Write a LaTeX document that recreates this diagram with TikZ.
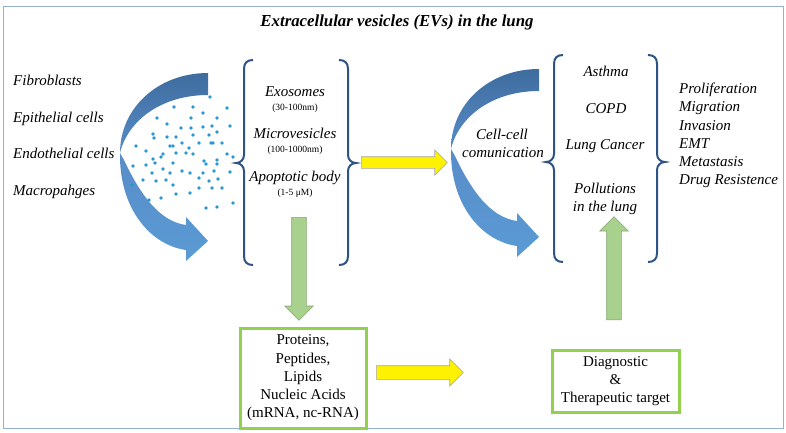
\documentclass[tikz,border=0pt]{standalone}
\usepackage{fontspec}
\setmainfont{Liberation Serif}
\usetikzlibrary{positioning, shapes.arrows}

\definecolor{framecol}{RGB}{150,175,215}
\definecolor{bracecol}{RGB}{46,84,134}
\definecolor{bandtop}{RGB}{62,108,158}
\definecolor{bandmid}{RGB}{88,140,200}
\definecolor{bandlow}{RGB}{91,155,213}
\definecolor{dotcol}{RGB}{40,152,212}
\definecolor{boxgreen}{RGB}{146,208,80}
\definecolor{arrowgreen}{RGB}{169,209,142}

% curly braces: x of the stem, top y, tip y, bottom y
\newcommand{\openbrace}[4]{\draw[bracket] (#1+9,#2) .. controls (#1+3,#2) and (#1,#2+3) .. (#1,#2+9) -- (#1,#3-8) .. controls (#1,#3-3) and (#1-4,#3) .. (#1-8,#3) .. controls (#1-4,#3) and (#1,#3+3) .. (#1,#3+8) -- (#1,#4-9) .. controls (#1,#4-3) and (#1+3,#4) .. (#1+9,#4);}
\newcommand{\closebrace}[4]{\draw[bracket] (#1-9,#2) .. controls (#1-3,#2) and (#1,#2+3) .. (#1,#2+9) -- (#1,#3-8) .. controls (#1,#3-3) and (#1+4,#3) .. (#1+8,#3) .. controls (#1+4,#3) and (#1,#3+3) .. (#1,#3+8) -- (#1,#4-9) .. controls (#1,#4-3) and (#1-3,#4) .. (#1-9,#4);}
% curved band arrow, shifted by (#1,#2)
\newcommand{\curvedband}[2]{%
\begin{scope}[shift={(#1,#2)}]
\shade[top color=bandtop, bottom color=bandmid] (208,73) .. controls (158,73) and (120,108) .. (120,153) .. controls (128,120) and (162,95) .. (208,95) -- cycle;
\shade[top color=bandmid, bottom color=bandlow] (120,153) .. controls (119,208) and (150,245) .. (186,250) -- (186,261) -- (208,241) -- (186,217) -- (186,225) .. controls (165,222) and (145,205) .. (124,160) -- cycle;
\end{scope}}

\begin{document}
\begin{tikzpicture}[
    x=1pt, y=-1pt,
    every node/.style={inner sep=0pt, font=\fontsize{15}{18.3}\selectfont},
    label/.style={font=\fontsize{15}{18.3}\selectfont\itshape},
    size/.style={font=\fontsize{9.5}{11}\selectfont},
    bracket/.style={draw=bracecol, line width=2pt},
    result/.style={draw=boxgreen, line width=3pt, align=center},
    yellowarrow/.style={single arrow, fill=yellow, draw=black!35, line width=0.6pt, inner ysep=#1, single arrow head extend=6.75pt},
    greenarrow/.style={single arrow, fill=arrowgreen, draw=arrowgreen!80!black, line width=0.6pt, inner sep=7pt, single arrow head extend=7pt, minimum height=103pt, shape border rotate=#1}
]

\useasboundingbox (0,0) rectangle (786,432);
\draw[framecol, line width=0.8pt] (3,6) rectangle (783,428);

\node[anchor=base, font=\fontsize{16.8}{20}\selectfont\bfseries\itshape] (title) at (397,26) {Extracellular vesicles (EVs) in the lung};

% cell types
\node[label, anchor=base west] (fib) at (13,85) {Fibroblasts};
\node[label, anchor=base west] (epi) at (13,122) {Epithelial cells};
\node[label, anchor=base west] (endo) at (13,158) {Endothelial cells};
\node[label, anchor=base west] (mac) at (13,195) {Macropahges};

% release of vesicles
\curvedband{0}{0}
\foreach \p in {(210,97),(174,107),(193,107),(203,113),(227,108),(157,118),(191,118),(217,118),
    (167,124),(181,128),(191,128),(203,127),(212,126),(230,126),(153,134),(154,138),(167,137),
    (176,137),(193,135),(209,135),(217,132),(136,146),(170,146),(173,146),(182,143),(199,143),
    (211,143),(213,143),(222,143),(146,151),(189,148),(163,154),(161,157),(176,153),(186,153),
    (193,154),(153,159),(155,163),(204,161),(206,164),(217,160),(217,164),(227,154),(233,157),
    (133,166),(146,165),(173,163),(163,169),(152,173),(170,173),(182,171),(190,173),(203,173),
    (214,171),(230,172),(143,180),(156,181),(166,180),(199,178),(209,181),(218,179),(132,185),
    (173,185),(190,193),(199,188),(212,188),(222,188),(149,200),(161,198),(176,194),(233,203),
    (206,208),(217,207)}
    \fill[dotcol] \p circle (1.8);

% types of vesicles
\openbrace{244}{60}{163}{265}
\closebrace{348}{60}{163}{265}
\node[label, anchor=base] (exo) at (295,96) {Exosomes};
\node[size, anchor=base] (exosize) at (295,110) {(30-100nm)};
\node[label, anchor=base] (micro) at (295,138) {Microvesicles};
\node[size, anchor=base] (microsize) at (295,152) {(100-1000nm)};
\node[label, anchor=base] (apo) at (295,181) {Apoptotic body};
\node[size, anchor=base] (aposize) at (295,195) {(1-5 μM)};

% communication
\curvedband{331}{-4}
\node[label, anchor=base] (cc) at (502,139) {Cell-cell};
\node[label, anchor=base] (comm) at (503,157) {comunication};

% diseases
\openbrace{554}{55}{162}{262}
\closebrace{657}{55}{162}{262}
\node[label, anchor=base] (asthma) at (606,76) {Asthma};
\node[label, anchor=base] (copd) at (606,113) {COPD};
\node[label, anchor=base] (cancer) at (605,149) {Lung Cancer};
\node[label, anchor=base] (poll) at (605,193) {Pollutions};
\node[label, anchor=base] (lung) at (605,211) {in the lung};

\node[label, anchor=north west, align=left] (effects) at (679,82.7) {Proliferation\\Migration\\Invasion\\EMT\\Metastasis\\Drug Resistence};

% cargo and use
\node[result, minimum width=126pt, minimum height=100pt] (mol) at (303,378) {Proteins,\\Peptides,\\Lipids\\Nucleic Acids\\(mRNA, nc-RNA)};
\node[result, minimum width=127pt, minimum height=62pt] (diag) at (615.5,381) {Diagnostic\\\&\\Therapeutic target};

% block arrows
\node[yellowarrow=5.5pt, minimum height=86pt, anchor=tail] (vesicles2comm) at (361,162.5) {};
\node[yellowarrow=6.5pt, minimum height=87pt, anchor=tail] (mol2diag) at (376,372.5) {};
\node[greenarrow=270, anchor=tail] (vesicles2mol) at (299,217) {};
\node[greenarrow=90, anchor=tail] (diag2disease) at (614,320) {};

\end{tikzpicture}
\end{document}
